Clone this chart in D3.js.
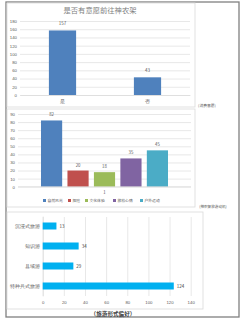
<!DOCTYPE html>
<html lang="zh">
<head>
    <meta charset="UTF-8">
    <title>神农架旅游调查</title>
    <script src="https://cdnjs.cloudflare.com/ajax/libs/d3/7.8.5/d3.min.js"></script>
    <style>
        body { margin: 0; padding: 0; background: #ffffff; }
        svg { display: block; font-family: 'Noto Sans CJK SC', 'Noto Sans', sans-serif; }
        .tick text { fill: #595959; }
    </style>
</head>
<body>
    <svg id="chart" width="243" height="319"></svg>
    <script>
        // chart 1: willingness
        const willCats = ['是', '否'];
        const willValues = [157, 43];
        const willTicks = [0, 20, 40, 60, 80, 100, 120, 140, 160, 180];

        // chart 2: motivation
        const motiveNames = ['自然风光', '探险', '文化体验', '放松心情', '户外运动'];
        const motiveValues = [82, 20, 18, 35, 45];
        const motiveColors = ['#4F81BD', '#C0504D', '#9BBB59', '#8064A2', '#4BACC6'];
        const motiveTicks = [0, 10, 20, 30, 40, 50, 60, 70, 80, 90];

        // chart 3: travel form preference
        const formCats = ['沉浸式旅游', '知识游', '县域游', '特种兵式旅游'];
        const formValues = [13, 34, 29, 124];
        const formTicks = [0, 20, 40, 60, 80, 100, 120, 140];

        const svg = d3.select('#chart');
        const grid = '#d9d9d9';

        // frames
        svg.append('rect').attr('x', 6).attr('y', 2).attr('width', 233).attr('height', 315)
            .attr('fill', 'none').attr('stroke', '#808080').attr('stroke-width', 1.3);
        [[7, 3, 188, 104], [7, 109, 188, 98], [7, 212, 196, 97]].forEach(r => {
            svg.append('rect').attr('x', r[0]).attr('y', r[1]).attr('width', r[2]).attr('height', r[3])
                .attr('fill', 'none').attr('stroke', grid).attr('stroke-width', 0.8);
        });

        // ---------- chart 1 ----------
        const g1 = svg.append('g');
        g1.append('text').attr('x', 100).attr('y', 13).attr('text-anchor', 'middle')
            .attr('font-size', 7.3).attr('fill', '#7f7f7f').text('是否有意愿前往神农架');

        const y1 = d3.scaleLinear().domain([0, 180]).range([95, 21]);
        const x1 = d3.scaleBand().domain(willCats).range([20, 190]).paddingInner(0.68).paddingOuter(0.34);

        g1.append('g').attr('transform', 'translate(20,0)')
            .call(d3.axisLeft(y1).tickValues(willTicks).tickSize(-170).tickPadding(3))
            .call(a => a.select('.domain').remove())
            .call(a => a.selectAll('line').attr('stroke', grid).attr('stroke-width', 0.6))
            .call(a => a.selectAll('text').attr('font-size', 4.3));

        g1.selectAll('rect.b').data(willValues).join('rect')
            .attr('x', (d, i) => x1(willCats[i])).attr('width', x1.bandwidth())
            .attr('y', d => y1(d)).attr('height', d => y1(0) - y1(d)).attr('fill', '#4F81BD');
        g1.selectAll('text.v').data(willValues).join('text')
            .attr('x', (d, i) => x1(willCats[i]) + x1.bandwidth() / 2).attr('y', d => y1(d) - 5)
            .attr('text-anchor', 'middle').attr('font-size', 4.5).attr('fill', '#595959').text(d => d);
        g1.append('g').attr('transform', 'translate(0,95)')
            .call(d3.axisBottom(x1).tickSize(0).tickPadding(4))
            .call(a => a.select('.domain').attr('stroke', grid).attr('stroke-width', 0.6))
            .call(a => a.selectAll('text').attr('font-size', 5));
        svg.append('text').attr('x', 207).attr('y', 107).attr('text-anchor', 'middle')
            .attr('font-size', 3.8).attr('fill', '#595959').text('(消费意愿)');

        // ---------- chart 2 ----------
        const g2 = svg.append('g');
        const y2 = d3.scaleLinear().domain([0, 90]).range([186.7, 114]);
        const x2 = d3.scaleBand().domain(motiveNames).range([41, 168]).paddingInner(0.2);

        g2.append('g').attr('transform', 'translate(18,0)')
            .call(d3.axisLeft(y2).tickValues(motiveTicks).tickSize(-173).tickPadding(3))
            .call(a => a.select('.domain').remove())
            .call(a => a.selectAll('line').attr('stroke', grid).attr('stroke-width', 0.6))
            .call(a => a.selectAll('text').attr('font-size', 4.3));

        g2.selectAll('rect.b').data(motiveValues).join('rect')
            .attr('x', (d, i) => x2(motiveNames[i])).attr('width', x2.bandwidth())
            .attr('y', d => y2(d)).attr('height', d => y2(0) - y2(d))
            .attr('fill', (d, i) => motiveColors[i]);
        g2.selectAll('text.v').data(motiveValues).join('text')
            .attr('x', (d, i) => x2(motiveNames[i]) + x2.bandwidth() / 2).attr('y', d => y2(d) - 4)
            .attr('text-anchor', 'middle').attr('font-size', 4.3).attr('fill', '#595959').text(d => d);
        g2.append('line').attr('x1', 18).attr('x2', 191).attr('y1', y2(0)).attr('y2', y2(0))
            .attr('stroke', grid).attr('stroke-width', 0.6);
        g2.append('text').attr('x', 104.5).attr('y', 194).attr('text-anchor', 'middle')
            .attr('font-size', 4.3).attr('fill', '#595959').text('1');

        // legend
        const legX = [43, 68, 85, 113, 140];
        const leg = g2.selectAll('g.leg').data(motiveNames).join('g')
            .attr('transform', (d, i) => `translate(${legX[i]},200.5)`);
        leg.append('rect').attr('x', 0).attr('y', -1.5).attr('width', 3).attr('height', 3)
            .attr('fill', (d, i) => motiveColors[i]);
        leg.append('text').attr('x', 4.5).attr('y', 1.5).attr('font-size', 3.8)
            .attr('fill', '#595959').text(d => d);
        svg.append('text').attr('x', 213).attr('y', 208).attr('text-anchor', 'middle')
            .attr('font-size', 3.6).attr('fill', '#595959').text('(神农架旅游动机)');

        // ---------- chart 3 ----------
        const g3 = svg.append('g');
        const x3 = d3.scaleLinear().domain([0, 140]).range([42.7, 190.7]);
        const y3 = d3.scaleBand().domain(formCats).range([216, 296]).paddingInner(0.65).paddingOuter(0.325);

        g3.append('g').attr('transform', 'translate(0,296)')
            .call(d3.axisBottom(x3).tickValues(formTicks).tickSize(-79).tickPadding(5))
            .call(a => a.select('.domain').remove())
            .call(a => a.selectAll('line').attr('stroke', grid).attr('stroke-width', 0.6))
            .call(a => a.selectAll('text').attr('font-size', 4.3));

        g3.append('g').attr('transform', 'translate(42.7,0)')
            .call(d3.axisLeft(y3).tickSize(0).tickPadding(3))
            .call(a => a.select('.domain').attr('stroke', grid).attr('stroke-width', 0.6))
            .call(a => a.selectAll('text').attr('font-size', 5.2));

        g3.selectAll('rect.b').data(formValues).join('rect')
            .attr('x', x3(0)).attr('width', d => x3(d) - x3(0))
            .attr('y', (d, i) => y3(formCats[i])).attr('height', y3.bandwidth())
            .attr('fill', '#00B0F0');
        g3.selectAll('text.v').data(formValues).join('text')
            .attr('x', d => x3(d) + 3).attr('y', (d, i) => y3(formCats[i]) + y3.bandwidth() / 2 + 1.6)
            .attr('font-size', 4.5).attr('fill', '#404040').text(d => d);
        svg.append('text').attr('x', 113).attr('y', 315.5).attr('text-anchor', 'middle')
            .attr('font-size', 5.6).attr('font-weight', 'bold').attr('fill', '#404040').text('（旅游形式偏好）');
    </script>
</body>
</html>
